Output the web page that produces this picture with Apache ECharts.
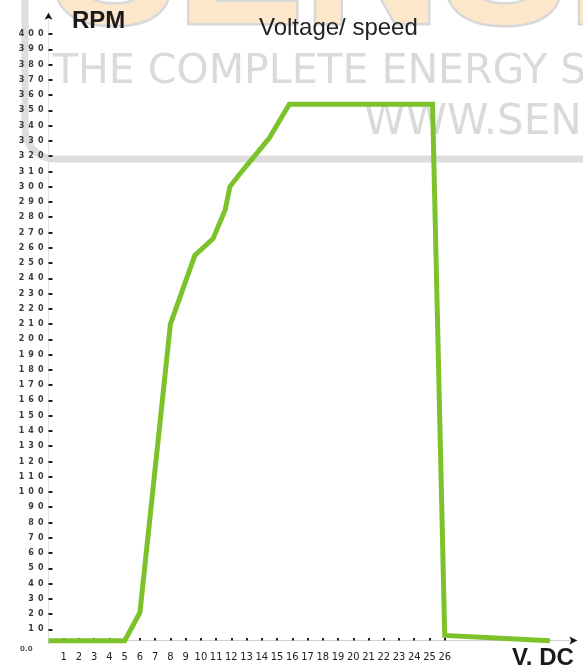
<!DOCTYPE html>
<html><head><meta charset="utf-8">
<script src="https://cdn.jsdelivr.net/npm/echarts@6/dist/echarts.min.js"></script>
<style>html,body{margin:0;padding:0;background:#fff}#c{width:583px;height:672px}</style>
</head><body><div id="c"></div>
<script>
// Data (voltage in V DC, speed in RPM)
const volts = [0, 5, 6, 8, 9.6, 10.8, 11.6, 11.9, 12.6, 13.6, 14.5, 15.8, 25.2, 26, 32.9];
const rpm   = [2.5, 2.5, 21, 210, 255, 266, 285, 300, 309, 321, 332, 354, 354, 6, 2.6];
const xTickValues = [1,2,3,4,5,6,7,8,9,10,11,12,13,14,15,16,17,18,19,20,21,22,23,24,25,26];
const yTickValues = [10,20,30,40,50,60,70,80,90,100,110,120,130,140,150,160,170,180,190,200,
  210,220,230,240,250,260,270,280,290,300,310,320,330,340,350,360,370,380,390,400];
const yLabelValues = [0].concat(yTickValues);
const titleText = 'Voltage/ speed';
const yName = 'RPM';
const xName = 'V. DC';

const seriesData = volts.map((v, i) => [v, rpm[i]]);

const chart = echarts.init(document.getElementById('c'), null, {renderer: 'canvas'});
const WM = '#dadada';
const BAR = {stroke: '#dddddd', lineWidth: 7, fill: null};
chart.setOption({
  animation: false,
  backgroundColor: '#ffffff',
  graphic: [
    {type: 'text', z: 0, x: 50, y: -29, silent: true,
     style: {text: 'SENSI', font: 'bold 190px "Liberation Sans"', fill: '#fde7cb', stroke: '#d8d8d8', lineWidth: 5, verticalAlign: 'middle', align: 'left'}},
    {type: 'line', z: 0, silent: true, shape: {x1: 25, y1: 0, x2: 25, y2: 129}, style: BAR},
    {type: 'arc', z: 0, silent: true, shape: {cx: 55, cy: 129, r: 30, startAngle: Math.PI / 2, endAngle: Math.PI, clockwise: true}, style: BAR},
    {type: 'line', z: 0, silent: true, shape: {x1: 55, y1: 159, x2: 590, y2: 159}, style: BAR},
    {type: 'text', z: 0, x: 53, y: 72, silent: true,
     style: {text: 'THE COMPLETE ENERGY S', font: '41px "DejaVu Sans"', fill: WM, verticalAlign: 'middle', align: 'left'}},
    {type: 'text', z: 0, x: 364, y: 123, silent: true,
     style: {text: 'WWW.SEN', font: '42px "DejaVu Sans"', fill: WM, verticalAlign: 'middle', align: 'left'}}
  ],
  title: [
    {text: yName, left: 72, top: 9, padding: 0,
     textStyle: {fontFamily: 'Liberation Sans', fontSize: 24, fontWeight: 'bold', color: '#1a1a1a'}},
    {text: titleText, left: 259, top: 16, padding: 0,
     textStyle: {fontFamily: 'Liberation Sans', fontSize: 24, fontWeight: 'normal', color: '#222'}},
    {text: xName, left: 512, top: 646, padding: 0,
     textStyle: {fontFamily: 'Liberation Sans', fontSize: 24, fontWeight: 'bold', color: '#1a1a1a'}}
  ],
  grid: {left: 48.5, top: 12.7, right: 5.7, bottom: 27.4},
  xAxis: [
    {type: 'value', min: 0, max: 34.7, position: 'bottom', offset: -4,
     axisLine: {show: true, onZero: false, lineStyle: {color: '#d0d0d0', width: 1}},
     axisTick: {show: true, customValues: xTickValues, inside: true, length: 2.5, lineStyle: {color: '#222', width: 2}},
     axisLabel: {show: true, customValues: xTickValues, margin: 11, fontSize: 11,
       fontFamily: '"Liberation Sans Narrow", "DejaVu Sans Condensed", sans-serif', color: '#222'},
     splitLine: {show: false}},
    {type: 'value', min: 0, max: 34.7, position: 'bottom', offset: -4,
     axisLine: {show: true, onZero: false, symbol: ['none', 'arrow'], symbolSize: [6, 8],
       lineStyle: {color: '#111', opacity: 0}},
     axisTick: {show: false}, axisLabel: {show: false}, splitLine: {show: false}}
  ],
  yAxis: [
    {type: 'value', min: 0, max: 414, position: 'left',
     axisLine: {show: true, onZero: false, lineStyle: {color: '#e2e2e2', width: 1}},
     axisTick: {show: true, customValues: yTickValues, inside: true, length: 4, lineStyle: {color: '#222', width: 2}},
     axisLabel: {show: true, customValues: yLabelValues, margin: 5, fontSize: 8, fontWeight: 'bold',
       fontFamily: 'DejaVu Sans', color: '#3a3a3a',
       formatter: function (v) { return v === 0 ? '{z|0.0}' : String(v).split('').join('\u2002'); },
       rich: {z: {fontSize: 7, fontFamily: 'DejaVu Sans', fontWeight: 'bold', color: '#555', padding: [9, 11, 0, 0]}}},
     splitLine: {show: false}},
    {type: 'value', min: 0, max: 414, position: 'left',
     axisLine: {show: true, onZero: false, symbol: ['none', 'arrow'], symbolSize: [6, 7],
       lineStyle: {color: '#111', opacity: 0}},
     axisTick: {show: false}, axisLabel: {show: false}, splitLine: {show: false}}
  ],
  series: [{
    type: 'line', xAxisIndex: 0, yAxisIndex: 0, data: seriesData,
    symbol: 'none', smooth: false, z: 5,
    lineStyle: {color: '#7cc22b', width: 5, join: 'miter'}
  }]
});
</script></body></html>
